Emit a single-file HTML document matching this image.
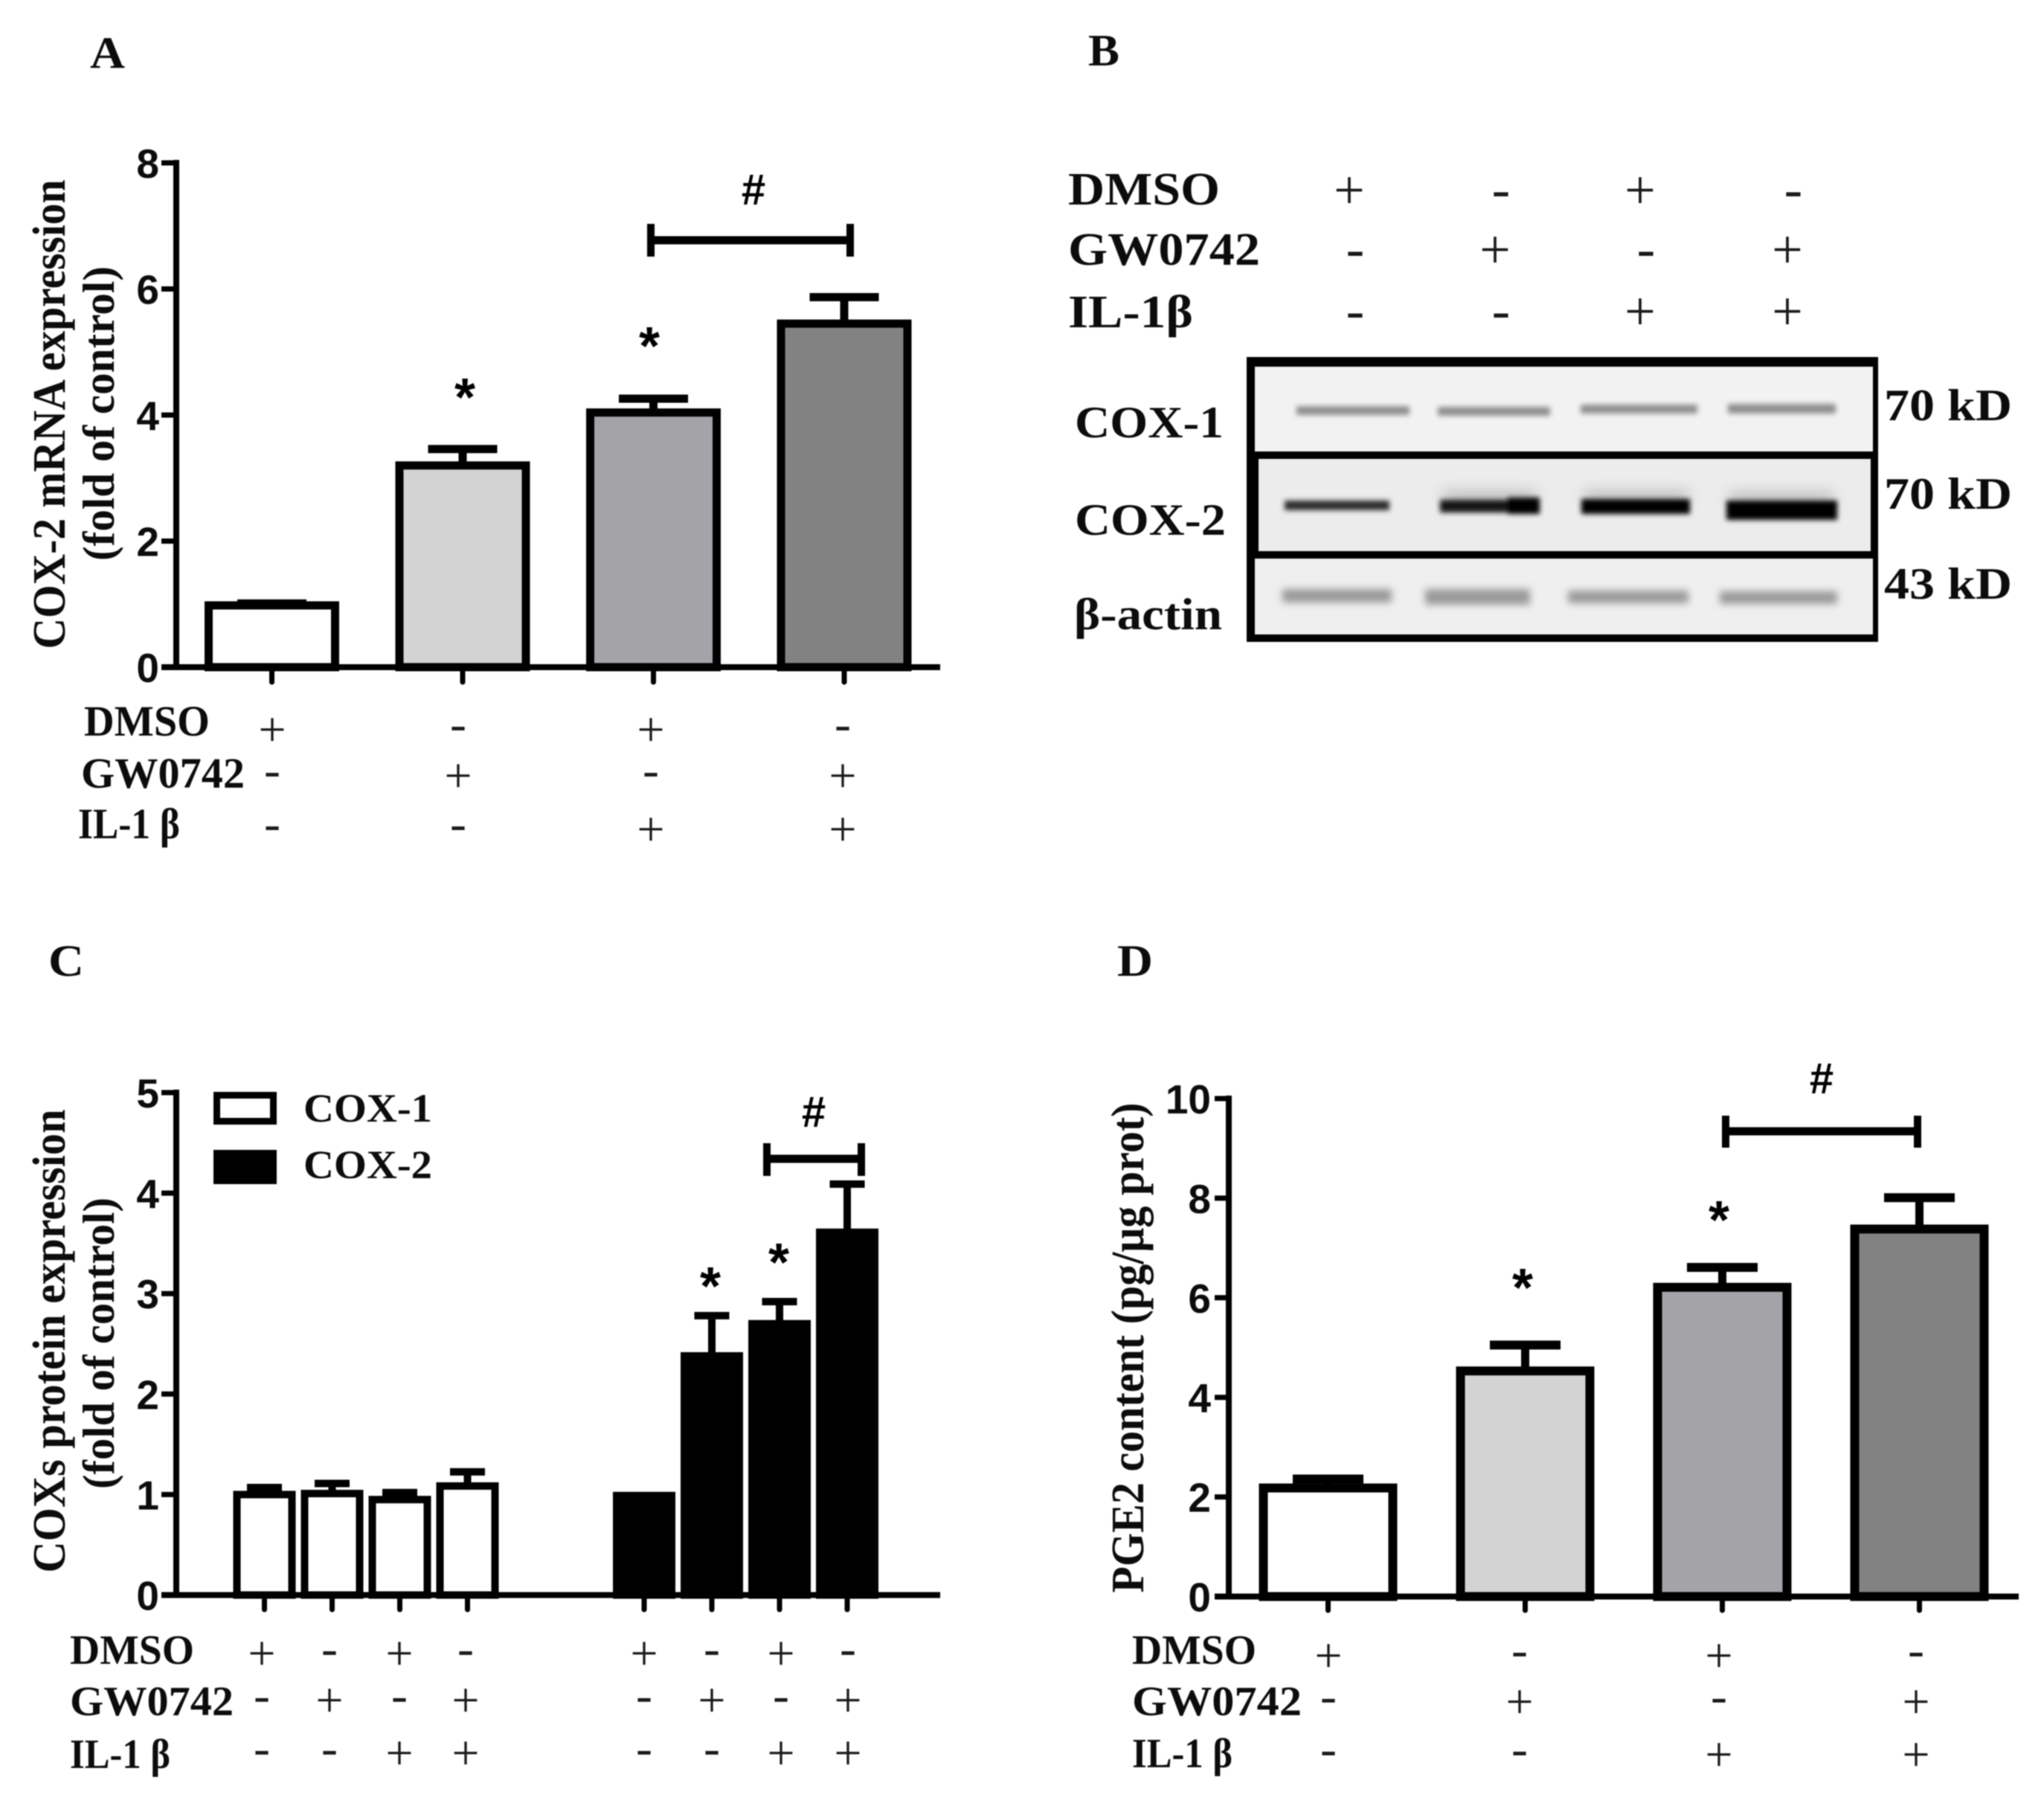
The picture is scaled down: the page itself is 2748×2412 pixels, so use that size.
<!DOCTYPE html>
<html lang="en">
<head>
<meta charset="utf-8">
<title>COX-2, COX-1 and PGE2 expression figure</title>
<style>
html,body{margin:0;padding:0;background:#fff;}
#figure{display:block;width:2748px;height:2412px;background:#fff;filter:blur(0.7px);}
.serif{font-family:"Liberation Serif","Noto Serif CJK SC",serif;font-weight:bold;fill:#0c0c0c;}
.tick-text{font-family:"Liberation Sans",sans-serif;font-weight:bold;fill:#0c0c0c;font-size:55px;}
.sign{font-family:"Liberation Serif",serif;font-weight:normal;fill:#1a1a1a;text-anchor:middle;}
</style>
</head>
<body>
<svg id="figure" xmlns="http://www.w3.org/2000/svg" width="2748" height="2412" viewBox="0 0 2748 2412">
  <defs>
    <filter id="b3" x="-10%" y="-80%" width="120%" height="260%"><feGaussianBlur stdDeviation="3.5"/></filter>
    <filter id="b5" x="-10%" y="-80%" width="120%" height="260%"><feGaussianBlur stdDeviation="5"/></filter>
    <filter id="b9" x="-10%" y="-100%" width="120%" height="300%"><feGaussianBlur stdDeviation="9"/></filter>
  </defs>

  <text class="serif" x="121" y="91" font-size="60" textLength="47" lengthAdjust="spacingAndGlyphs">A</text>
  <text class="serif" x="1463" y="88" font-size="60" textLength="42" lengthAdjust="spacingAndGlyphs">B</text>
  <text class="serif" x="65" y="1312" font-size="60" textLength="48" lengthAdjust="spacingAndGlyphs">C</text>
  <text class="serif" x="1502" y="1312" font-size="60" textLength="48" lengthAdjust="spacingAndGlyphs">D</text>

  <g>
    <rect x="1676" y="480" width="849" height="383" fill="#000"/>
    <rect x="1687" y="493" width="831" height="114" fill="#f2f2f2"/>
    <rect x="1692" y="617" width="823" height="124" fill="#ececec"/>
    <rect x="1687" y="751" width="831" height="102" fill="#efefef"/>
    <g fill="#8f8f8f" filter="url(#b3)">
      <rect x="1743" y="546" width="152" height="12"/>
      <rect x="1933" y="547" width="151" height="12"/>
      <rect x="2125" y="544" width="157" height="12"/>
      <rect x="2323" y="543" width="145" height="13"/>
    </g>
    <g fill="#bdbdbd" filter="url(#b9)">
      <rect x="1940" y="660" width="125" height="18"/>
      <rect x="2130" y="660" width="140" height="18"/>
      <rect x="2325" y="662" width="140" height="18"/>
    </g>
    <g filter="url(#b3)">
      <rect x="1727" y="673" width="141" height="13" fill="#2a2a2a"/>
      <rect x="1936" y="672" width="133" height="17" fill="#141414"/>
      <rect x="2027" y="669" width="43" height="22" fill="#000"/>
      <rect x="2126" y="671" width="146" height="20" fill="#050505"/>
      <rect x="2321" y="673" width="149" height="26" fill="#000"/>
    </g>
    <g fill="#999" filter="url(#b5)">
      <rect x="1724" y="792" width="147" height="18"/>
      <rect x="1916" y="792" width="141" height="21"/>
      <rect x="2108" y="794" width="162" height="17"/>
      <rect x="2312" y="795" width="158" height="17"/>
    </g>
  </g>
  <text class="serif" x="1445" y="588" font-size="60" textLength="200" lengthAdjust="spacingAndGlyphs">COX-1</text>
  <text class="serif" x="1445" y="719" font-size="60" textLength="203" lengthAdjust="spacingAndGlyphs">COX-2</text>
  <text class="serif" x="1444" y="846" font-size="60" textLength="199" lengthAdjust="spacingAndGlyphs">β-actin</text>
  <text class="serif" x="2533" y="565" font-size="60" textLength="172" lengthAdjust="spacingAndGlyphs">70 kD</text>
  <text class="serif" x="2533" y="684" font-size="60" textLength="172" lengthAdjust="spacingAndGlyphs">70 kD</text>
  <text class="serif" x="2533" y="805" font-size="60" textLength="172" lengthAdjust="spacingAndGlyphs">43 kD</text>
</svg>

<script>
// ---------- chart data ----------
const categoriesFour = ['DMSO', 'GW0742', 'IL-1β', 'GW0742+IL-1β'];
const fourBarFills = ['#ffffff', '#d3d3d3', '#a4a3a7', '#828282'];

const mrnaValues = [0.98, 3.20, 4.04, 5.45];
const mrnaErrorTops = [1.01, 3.46, 4.26, 5.87];
const mrnaTicks = [0, 2, 4, 6, 8];

const cox1Values = [1.00, 1.01, 0.95, 1.085];
const cox1ErrorTops = [1.07, 1.11, 1.02, 1.226];
const cox2Values = [0.99, 2.38, 2.70, 3.61];
const cox2ErrorTops = [0.99, 2.78, 2.92, 4.09];
const coxTicks = [0, 1, 2, 3, 4, 5];

const pge2Values = [2.18, 4.53, 6.21, 7.38];
const pge2ErrorTops = [2.36, 5.05, 6.61, 8.01];
const pge2Ticks = [0, 2, 4, 6, 8, 10];

const dmsoSigns = ['+', '-', '+', '-'];
const gwSigns = ['-', '+', '-', '+'];
const ilSigns = ['-', '-', '+', '+'];
const rowNames = ['DMSO', 'GW0742', 'IL-1 β'];

// ---------- drawing helpers ----------
const NS = 'http://www.w3.org/2000/svg';
const svg = document.getElementById('figure');

function make(tag, attrs, name, parent) {
  const el = document.createElementNS(NS, tag);
  for (const k in attrs) el.setAttribute(k, attrs[k]);
  
  
  (parent || svg).appendChild(el);
  return el;
}
function line(x1, y1, x2, y2, w, name, parent, cap) {
  return make('line', {x1: x1, y1: y1, x2: x2, y2: y2, stroke: '#000', 'stroke-width': w, 'stroke-linecap': cap || 'butt'}, name, parent);
}
function label(str, x, y, size, width, name, parent, cls, rotate) {
  const attrs = {x: x, y: y, 'font-size': size, class: cls || 'serif'};
  if (width) { attrs.textLength = width; attrs.lengthAdjust = 'spacingAndGlyphs'; }
  if (rotate) { attrs.transform = 'rotate(-90 ' + x + ' ' + y + ')'; attrs['text-anchor'] = 'middle'; }
  const t = make('text', attrs, name, parent);
  t.textContent = str;
  return t;
}
function drawSign(s, x, y, size, name, parent) {
  const base = s === '+' ? y + size * 0.37 : y + size * 0.225;
  const t = make('text', {x: x, y: base, 'font-size': size, class: 'sign'}, name, parent);
  t.textContent = s;
}
function drawStar(x, cy, name, parent) {
  const t = make('text', {x: x, y: cy + 39, 'text-anchor': 'middle', 'font-size': 72, 'font-family': '"Liberation Sans",sans-serif', 'font-weight': 'bold', fill: '#000'}, name, parent);
  t.textContent = '*';
}
function drawHash(x, cy, name, parent) {
  const t = make('text', {x: x, y: cy + 21, 'text-anchor': 'middle', 'font-size': 58, 'font-family': '"Liberation Sans",sans-serif', 'font-weight': 'bold', fill: '#000'}, name, parent);
  t.textContent = '#';
}
function drawBracket(x1, x2, y, top, bottom, parent) {
  line(x1, y, x2, y, 11, 'significance-bracket', parent);
  line(x1, top, x1, bottom, 10, 'bracket-left-end', parent);
  line(x2, top, x2, bottom, 10, 'bracket-right-end', parent);
}

function drawAxes(g, p, ticks, max) {
  const y = v => p.y0 - v * (p.y0 - p.yTop) / max;
  line(p.axisX, y(max) - 4, p.axisX, p.y0 + 4, 8, 'y-axis', g);
  line(p.tickX, p.y0, p.xEnd, p.y0, 8, 'x-axis', g);
  ticks.forEach(v => {
    line(p.tickX, y(v), p.axisX, y(v), 7, 'y-tick-' + v, g);
    const t = make('text', {x: p.labelX, y: y(v) + 20, 'text-anchor': 'end', class: 'tick-text'}, 'y-tick-label-' + v, g);
    t.textContent = v;
  });
  return y;
}
function drawBar(g, cx, outerW, stroke, v, errTop, fill, capW, stemW, y, y0, tickBottom, name) {
  if (errTop > v) {
    line(cx, y(v), cx, y(errTop), stemW, name + '-error-stem', g);
    line(cx - capW / 2, y(errTop), cx + capW / 2, y(errTop), stroke, name + '-error-cap', g);
  }
  make('rect', {x: cx - outerW / 2 + stroke / 2, y: y(v), width: outerW - stroke, height: y0 - y(v), fill: fill, stroke: '#000', 'stroke-width': stroke}, name, g);
  line(cx, y0, cx, tickBottom - 3, 7, name + '-x-tick', g, 'round');
}
function drawRows(g, names, xs, ys, size, widths, bases, cols, rows, opts) {
  const o = opts || {};
  const signSize = o.signSize || 66;
  names.forEach((n, r) => {
    label(n, xs[r], bases[r], size, widths[r], 'row-label-' + n.toLowerCase().replace(/[^a-z0-9]/g, ''), g);
    rows[r].forEach((s, c) => {
      const isPlus = s === '+';
      const dx = isPlus ? 0 : (o.minusDx || 0);
      const dy = isPlus ? (o.plusDy || 0) : (o.minusDy || 0);
      drawSign(s, cols[c] + dx, ys[r] + dy, signSize, 'sign-row-' + r + '-col-' + c, g);
    });
  });
}

// ---------- panel A ----------
(function () {
  const g = make('g', {}, 'panel-a-mrna-chart');
  const p = {axisX: 237, tickX: 217, labelX: 214, xEnd: 1264, y0: 897, yTop: 219};
  const y = drawAxes(g, p, mrnaTicks, 8);
  const cx = i => 365.5 + i * 256.5;
  categoriesFour.forEach((c, i) => {
    drawBar(g, cx(i), 181, 11, mrnaValues[i], mrnaErrorTops[i], fourBarFills[i], 93, 11, y, p.y0, 920, 'mrna-bar-' + (i + 1));
  });
  label('COX-2 mRNA expression', 87, 557, 62, 631, 'y-axis-title-line-1', g, 'serif', true);
  label('(fold of control)', 153, 556, 60, 396, 'y-axis-title-line-2', g, 'serif', true);
  drawStar(625, 520, 'significance-star-gw0742', g);
  drawStar(873, 451, 'significance-star-il1b', g);
  drawHash(1013, 254, 'significance-hash', g);
  drawBracket(875, 1143, 323, 301, 345, g);
  drawRows(g, rowNames, [113, 109, 105], [980, 1042, 1114], 58, [169, 220, 137], [989, 1059, 1127],
    [366, 616, 875, 1133], [dmsoSigns, gwSigns, ilSigns], {plusDy: -2});
})();

// ---------- panel B treatment grid ----------
(function () {
  const g = make('g', {}, 'panel-b-treatment-grid');
  drawRows(g, ['DMSO', 'GW0742', 'IL-1β'], [1436, 1436, 1436], [259, 339, 422], 62, [204, 258, 168], [275, 356, 440],
    [1814, 2010, 2205, 2403], [dmsoSigns, gwSigns, ilSigns], {signSize: 74, minusDx: 8, plusDy: -6, minusDy: 3});
})();

// ---------- panel C ----------
(function () {
  const g = make('g', {}, 'panel-c-cox-protein-chart');
  const p = {axisX: 237, tickX: 217, labelX: 214, xEnd: 1264, y0: 2144.5, yTop: 1469};
  const y = drawAxes(g, p, coxTicks, 5);
  const cx = slot => 355.5 + slot * 91;
  cox1Values.forEach((v, i) => {
    drawBar(g, cx(i), 84, 10, v, cox1ErrorTops[i], '#ffffff', 47, 10, y, p.y0, 2167, 'cox-1-bar-' + (i + 1));
  });
  cox2Values.forEach((v, i) => {
    drawBar(g, cx(i + 5.61), 84, 10, v, cox2ErrorTops[i], '#000000', 47, 10, y, p.y0, 2167, 'cox-2-bar-' + (i + 1));
  });
  label('COXs protein expression', 87, 1803, 62, 623, 'y-axis-title-line-1', g, 'serif', true);
  label('(fold of control)', 153, 1806, 60, 392, 'y-axis-title-line-2', g, 'serif', true);
  make('rect', {x: 291.5, y: 1472.5, width: 76, height: 35, fill: '#fff', stroke: '#000', 'stroke-width': 9}, 'legend-swatch-cox-1', g);
  make('rect', {x: 287, y: 1546, width: 85, height: 46, fill: '#000'}, 'legend-swatch-cox-2', g);
  label('COX-1', 408, 1508, 54, 173, 'legend-label-cox-1', g);
  label('COX-2', 408, 1584, 54, 173, 'legend-label-cox-2', g);
  drawStar(955, 1715, 'significance-star-gw0742', g);
  drawStar(1047, 1683, 'significance-star-il1b', g);
  drawHash(1094, 1494, 'significance-hash', g);
  drawBracket(1031, 1158, 1558, 1537, 1581, g);
  const cols = [352, 443, 537, 626, 866, 957, 1050, 1140];
  drawRows(g, rowNames, [94, 94, 94], [2225, 2288, 2359], 56, [167, 220, 135], [2237, 2306, 2377], cols,
    [dmsoSigns.concat(dmsoSigns), gwSigns.concat(gwSigns), ilSigns.concat(ilSigns)], {plusDy: -5, minusDy: -2});
})();

// ---------- panel D ----------
(function () {
  const g = make('g', {}, 'panel-d-pge2-chart');
  const p = {axisX: 1652, tickX: 1633, labelX: 1628, xEnd: 2714, y0: 2146.5, yTop: 1477};
  const y = drawAxes(g, p, pge2Ticks, 10);
  const cx = i => 1785.5 + i * 265;
  categoriesFour.forEach((c, i) => {
    drawBar(g, cx(i), 186, 12, pge2Values[i], pge2ErrorTops[i], fourBarFills[i], 95, 11, y, p.y0, 2168, 'pge2-bar-' + (i + 1));
  });
  label('PGE2 content (pg/μg prot)', 1537, 1812, 62, 659, 'y-axis-title', g, 'serif', true);
  drawStar(2047, 1717, 'significance-star-gw0742', g);
  drawStar(2311, 1626, 'significance-star-il1b', g);
  drawHash(2449, 1449, 'significance-hash', g);
  drawBracket(2320, 2578, 1521, 1500, 1543, g);
  drawRows(g, rowNames, [1522, 1522, 1522], [2226, 2288, 2359], 56, [167, 228, 135], [2237, 2306, 2376],
    [1786, 2043, 2311, 2576], [dmsoSigns, gwSigns, ilSigns], {plusDy: -3, minusDy: -1});
})();
</script>
</body>
</html>
